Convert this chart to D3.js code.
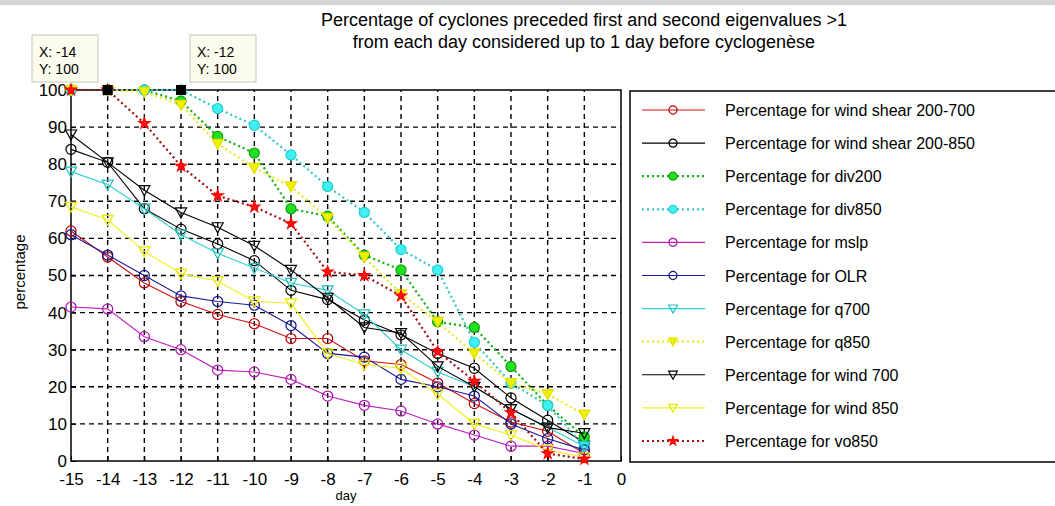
<!DOCTYPE html>
<html>
<head>
<meta charset="utf-8">
<script src="https://cdn.jsdelivr.net/npm/d3@7"></script>
<style>
  body { margin: 0; background: #fff; }
  svg text { font-family: "Liberation Sans", Arial, sans-serif; }
</style>
</head>
<body>
<svg id="chart" width="1055" height="506"></svg>
<script>
var days = [-15, -14, -13, -12, -11, -10, -9, -8, -7, -6, -5, -4, -3, -2, -1];
var xTicks = [-15, -14, -13, -12, -11, -10, -9, -8, -7, -6, -5, -4, -3, -2, -1, 0];
var yTicks = [0, 10, 20, 30, 40, 50, 60, 70, 80, 90, 100];

var shear700  = [62, 55, 48, 43, 39.5, 37, 33, 33, 27, 26, 21, 15.5, 10.5, 8, 2];
var shear850  = [84, 80.5, 68, 62.5, 58.5, 54, 46, 43.5, 38, 34, 29, 25, 17, 11, 5];
var div200    = [100, 100, 100, 97, 87.5, 83, 68, 66, 55.5, 51.5, 37.5, 36, 25.5, 15, 6.5];
var div850    = [100, 100, 100, 100, 95, 90.5, 82.5, 74, 67, 57, 51.5, 32, 21, 15, 4];
var mslp      = [41.5, 41, 33.5, 30, 24.5, 24, 22, 17.5, 15, 13.5, 10, 7, 4, 4, 2];
var olr       = [61, 55.5, 50, 44.5, 43, 42, 36.5, 29, 28, 22, 20, 17.5, 10, 6, 3];
var q700      = [78, 74.5, 68, 61, 56, 52, 48, 46, 39.5, 30, 24, 20, 14, 9, 4];
var q850      = [100, 100, 99.5, 96, 85.5, 79, 74, 65.5, 55, 45, 37.5, 29, 21, 18, 12.5];
var wind700   = [88, 80.5, 73, 67, 63, 58, 51.5, 44, 36, 34.5, 25.5, 20, 14, 9, 7.5];
var wind850   = [68.5, 65, 56.5, 50.5, 48.5, 43, 42.5, 29, 26, 25, 18, 10, 7, 3, 1];
var vo850     = [100, 100, 91, 79.5, 71.5, 68.5, 64, 51, 50, 44.5, 29.5, 21.5, 13, 2, 0.5];

var seriesNames = ["Percentage for wind shear 200-700", "Percentage for wind shear 200-850",
  "Percentage for div200", "Percentage for div850", "Percentage for mslp", "Percentage for OLR",
  "Percentage for q700", "Percentage for q850", "Percentage for wind 700", "Percentage for wind 850",
  "Percentage for vo850"];
var seriesValues = [shear700, shear850, div200, div850, mslp, olr, q700, q850, wind700, wind850, vo850];
// line colour, marker colour, marker fill, dotted?, marker shape
var seriesStyle = [
  {line: "#d01010", mark: "#c00000", fill: "none", dotted: false, shape: "circle"},
  {line: "#000000", mark: "#000000", fill: "none", dotted: false, shape: "circle"},
  {line: "#10b010", mark: "#10a010", fill: "#20e020", dotted: true, shape: "circle"},
  {line: "#30c8c8", mark: "#20d0d0", fill: "#40f0f0", dotted: true, shape: "circle"},
  {line: "#c020c0", mark: "#b010b0", fill: "none", dotted: false, shape: "circle"},
  {line: "#1c1c9c", mark: "#10108c", fill: "none", dotted: false, shape: "circle"},
  {line: "#30d0d0", mark: "#20c0c0", fill: "none", dotted: false, shape: "triangle"},
  {line: "#e8e820", mark: "#e0e000", fill: "#f0f000", dotted: true, shape: "triangle"},
  {line: "#000000", mark: "#000000", fill: "none", dotted: false, shape: "triangle"},
  {line: "#f0f020", mark: "#e8e800", fill: "none", dotted: false, shape: "triangle"},
  {line: "#a01010", mark: "#ff0000", fill: "#ff1010", dotted: true, shape: "star"}
];

var tips = [{x: -14, y: 100}, {x: -12, y: 100}];
var tipBoxLeft = [32, 190];

var svg = d3.select("#chart");

// faint banner at the very top of the image
svg.append("rect").attr("x", 0).attr("y", 0).attr("width", 1055).attr("height", 5).attr("fill", "#d4d4d4");

var x = d3.scaleLinear().domain([-15, 0]).range([71, 621]);
var y = d3.scaleLinear().domain([0, 100]).range([461, 90]);

// grid
svg.selectAll("line.vgrid")
  .data(xTicks.filter(function(d){ return d > -15 && d < 0 })).enter()
  .append("line").attr("class", "vgrid")
  .attr("x1", function(d){ return x(d) }).attr("x2", function(d){ return x(d) })
  .attr("y1", y(0)).attr("y2", y(100))
  .attr("stroke", "#000").attr("stroke-width", 1.4).attr("stroke-dasharray", "5,4");
svg.selectAll("line.hgrid")
  .data(yTicks.filter(function(d){ return d > 0 && d < 100 })).enter()
  .append("line").attr("class", "hgrid")
  .attr("y1", function(d){ return y(d) }).attr("y2", function(d){ return y(d) })
  .attr("x1", x(-15)).attr("x2", x(0))
  .attr("stroke", "#000").attr("stroke-width", 1.4).attr("stroke-dasharray", "5,4");

// axes (plain hyphen minus like the original)
var xAxis = d3.axisBottom(x).tickValues(xTicks).tickSize(-5).tickPadding(12)
  .tickFormat(function(d){ return String(d) });
var yAxis = d3.axisLeft(y).tickValues(yTicks).tickSize(-5).tickPadding(4)
  .tickFormat(function(d){ return String(d) });
var gx = svg.append("g").attr("transform", "translate(0," + y(0) + ")").call(xAxis);
var gy = svg.append("g").attr("transform", "translate(" + x(-15) + ",0)").call(yAxis);
[gx, gy].forEach(function(g){
  g.select(".domain").remove();
  g.selectAll("line").attr("stroke", "#000");
  g.selectAll("text").attr("font-size", 17).attr("fill", "#000");
});
svg.append("rect").attr("x", x(-15)).attr("y", y(100))
  .attr("width", x(0) - x(-15)).attr("height", y(0) - y(100))
  .attr("fill", "none").attr("stroke", "#000").attr("stroke-width", 1.5);

// marker shapes
function markerPath(shape, k){
  k = k || 1;
  if (shape == "circle") return d3.symbol(d3.symbolCircle, 80 * k * k)();
  if (shape == "triangle") return "M" + (-5.5 * k) + "," + (-4.5 * k) + "L" + (5.5 * k) + "," + (-4.5 * k) + "L0," + (5.5 * k) + "Z";
  return d3.symbol(d3.symbolStar, 38 * k * k)();
}

var line = d3.line().x(function(d){ return x(d.day) }).y(function(d){ return y(d.val) });

seriesValues.forEach(function(vals, i){
  var st = seriesStyle[i];
  var pts = vals.map(function(v, j){ return {day: days[j], val: v} });
  svg.append("path").datum(pts)
    .attr("d", line).attr("fill", "none")
    .attr("stroke", st.line)
    .attr("stroke-width", st.dotted ? 2.2 : 1.1)
    .attr("stroke-dasharray", st.dotted ? "2,3" : null);
  svg.selectAll("path.m" + i).data(pts).enter()
    .append("path").attr("class", "m" + i)
    .attr("transform", function(d){ return "translate(" + x(d.day) + "," + y(d.val) + ")" })
    .attr("d", markerPath(st.shape))
    .attr("fill", st.fill).attr("stroke", st.mark).attr("stroke-width", 1.2);
});

// data tips
svg.selectAll("rect.tipmark").data(tips).enter()
  .append("rect").attr("class", "tipmark")
  .attr("x", function(d){ return x(d.x) - 5 }).attr("y", function(d){ return y(d.y) - 5 })
  .attr("width", 10).attr("height", 10).attr("fill", "#000");
var tipG = svg.selectAll("g.tip").data(tips).enter()
  .append("g").attr("class", "tip")
  .attr("transform", function(d, i){ return "translate(" + tipBoxLeft[i] + ",35)" });
tipG.append("rect").attr("width", 66).attr("height", 47)
  .attr("fill", "#fbfbee").attr("stroke", "#c8c8b8");
tipG.append("text").attr("x", 7).attr("y", 22).attr("font-size", 14)
  .text(function(d){ return "X: " + d.x });
tipG.append("text").attr("x", 7).attr("y", 39).attr("font-size", 14)
  .text(function(d){ return "Y: " + d.y });

// titles
svg.append("text").attr("x", 584).attr("y", 26).attr("text-anchor", "middle").attr("font-size", 18)
  .text("Percentage of cyclones preceded first and second eigenvalues >1");
svg.append("text").attr("x", 584).attr("y", 48).attr("text-anchor", "middle").attr("font-size", 18)
  .text("from each day considered up to 1 day before cyclogenèse");
svg.append("text").attr("x", 346).attr("y", 500).attr("text-anchor", "middle").attr("font-size", 13)
  .text("day");
svg.append("text").attr("transform", "translate(25,272) rotate(-90)")
  .attr("text-anchor", "middle").attr("font-size", 15).text("percentage");

// legend
var legend = svg.append("g");
legend.append("rect").attr("x", 630).attr("y", 91).attr("width", 440).attr("height", 371)
  .attr("fill", "#fff").attr("stroke", "#000").attr("stroke-width", 1.5);
var ly = d3.scaleLinear().domain([0, 10]).range([110, 441]);
seriesNames.forEach(function(name, i){
  var st = seriesStyle[i];
  var g = legend.append("g").attr("transform", "translate(0," + ly(i) + ")");
  g.append("line").attr("x1", 642).attr("x2", 705).attr("y1", 0).attr("y2", 0)
    .attr("stroke", st.line).attr("stroke-width", st.dotted ? 2.2 : 1.1)
    .attr("stroke-dasharray", st.dotted ? "2,3" : null);
  g.append("path").attr("transform", "translate(673,0)").attr("d", markerPath(st.shape, 0.8))
    .attr("fill", st.fill).attr("stroke", st.mark).attr("stroke-width", 1.2);
  g.append("text").attr("x", 725).attr("y", 6).attr("font-size", 16).text(name);
});
</script>
</body>
</html>
